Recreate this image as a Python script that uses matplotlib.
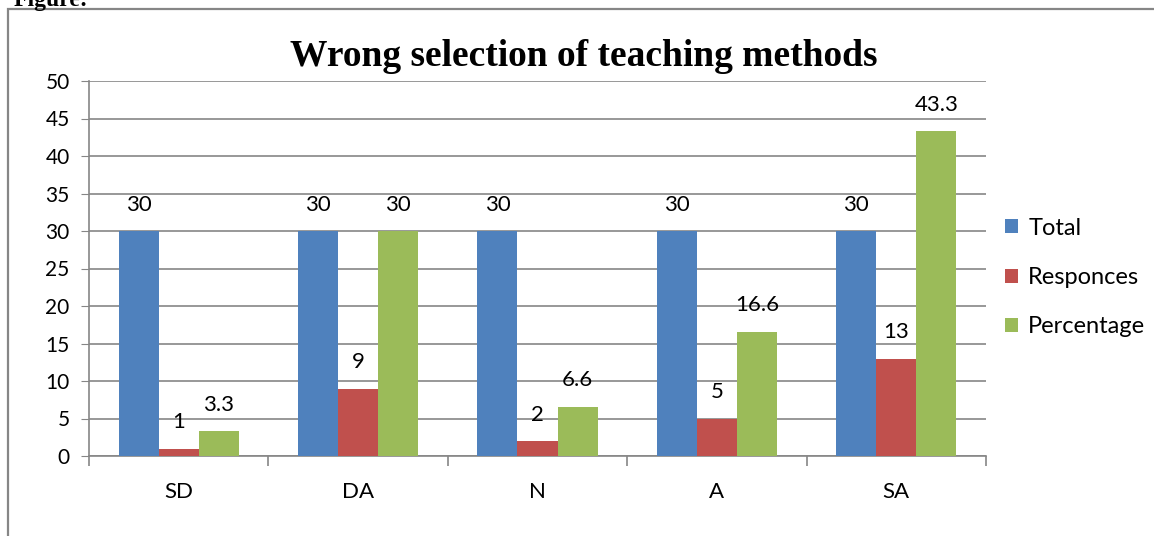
import numpy as np
import matplotlib.pyplot as plt
from matplotlib.patches import Rectangle

categories = ['SD', 'DA', 'N', 'A', 'SA']
total = [30, 30, 30, 30, 30]
responces = [1, 9, 2, 5, 13]
percentage = [3.3, 30, 6.6, 16.6, 43.3]
series_names = ['Total', 'Responces', 'Percentage']
colors = ['#4F81BD', '#C0504D', '#9BBB59']

label_font = ['Lato', 'DejaVu Sans']
grid_col = '#868686'

fig = plt.figure(figsize=(11.54, 5.36), dpi=100)
W, H = 1154, 536

# outer chart frame (cut off on the right and bottom like the screenshot)
fig.patches.append(Rectangle((8 / W, -0.2), 2.0, 1.2 - 9 / H, transform=fig.transFigure,
                             fill=False, edgecolor='#868686', linewidth=1.6))
fig.text(14 / W, 1 - 6 / H, 'Figure:', fontsize=17, fontweight='bold',
         family='Liberation Serif', va='baseline', ha='left')

ax = fig.add_axes([89 / W, 1 - 456 / H, 897 / W, 375 / H])
x = np.arange(len(categories))
width = 0.223

for i, (vals, name) in enumerate(zip([total, responces, percentage], series_names)):
    bars = ax.bar(x + (i - 1) * width, vals, width, color=colors[i], label=name, zorder=3)
    for b, v in zip(bars, vals):
        ax.annotate(f'{v:g}', (b.get_x() + b.get_width() / 2, b.get_height()),
                    xytext=(0, 19), textcoords='offset points', ha='center', va='center',
                    fontsize=16, family=label_font)

ax.set_xlim(-0.5, 4.5)
ax.set_ylim(0, 50)
ax.set_yticks(range(0, 51, 5))
ax.yaxis.grid(True, color=grid_col, linewidth=1.2, zorder=0)
ax.tick_params(axis='y', length=6, color=grid_col, labelsize=15, pad=8)
for t in ax.get_yticklabels():
    t.set_family(label_font)

ax.set_xticks(np.arange(-0.5, 5, 1))
ax.set_xticklabels([])
ax.tick_params(axis='x', which='major', length=7, color=grid_col, width=1.2)
ax.set_xticks(x, minor=True)
ax.set_xticklabels(categories, minor=True, fontsize=16, family=label_font)
ax.tick_params(axis='x', which='minor', length=0, pad=19)

for s in ['top', 'right']:
    ax.spines[s].set_visible(False)
for s in ['left', 'bottom']:
    ax.spines[s].set_color(grid_col)
    ax.spines[s].set_linewidth(1.2)

fig.text(584 / W, 1 - 56 / H, 'Wrong selection of teaching methods', fontsize=27,
         fontweight='bold', family='Liberation Serif', ha='center', va='center')

ax.legend(loc='center left', bbox_to_anchor=(0.997, 0.476), frameon=False,
          handlelength=0.55, handleheight=0.55, handletextpad=0.45, labelspacing=1.2,
          prop={'family': label_font, 'size': 17})

fig.savefig('out.png', dpi=100)
